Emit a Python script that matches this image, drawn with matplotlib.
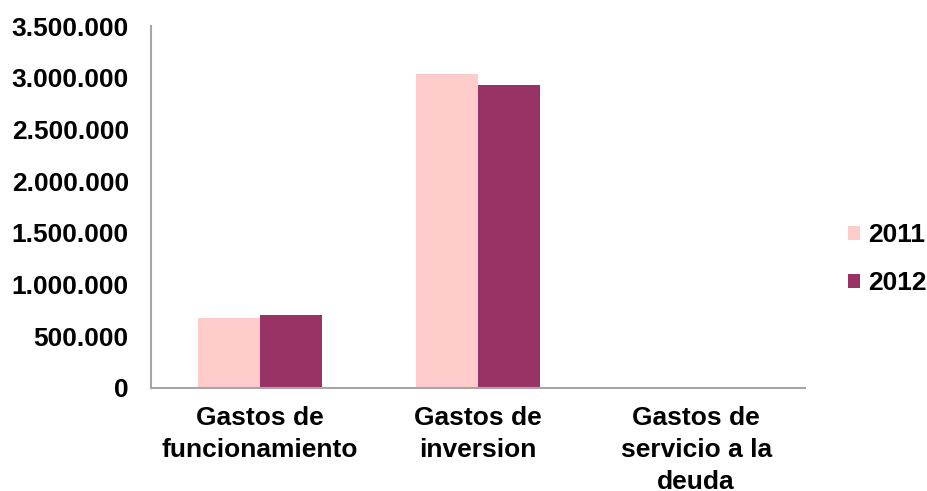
import numpy as np
import matplotlib.pyplot as plt
from matplotlib.ticker import FuncFormatter

plt.rcParams['font.family'] = ['Liberation Sans', 'DejaVu Sans']

categorias = ["Gastos de\nfuncionamiento", "Gastos de\ninversion", "Gastos de\nservicio a la\ndeuda"]
gastos_2011 = [677000, 3037000, 0]
gastos_2012 = [706000, 2930000, 0]
anios = ["2011", "2012"]

fig = plt.figure(figsize=(9.28, 4.91), dpi=100)
ax = fig.add_axes([0.1627, 0.2098, 0.705, 0.737])

x = np.arange(len(categorias))
w = 0.285
ax.bar(x - w / 2, gastos_2011, w, color="#FFCCCC", label=anios[0])
ax.bar(x + w / 2, gastos_2012, w, color="#993366", label=anios[1])

ax.set_xlim(-0.5, 2.5)
ax.set_ylim(0, 3500000)
ax.set_yticks(np.arange(0, 3500001, 500000))
ax.yaxis.set_major_formatter(FuncFormatter(lambda v, p: f"{int(v):,}".replace(",", ".")))
ax.set_xticks(x)
ax.set_xticklabels(categorias, fontsize=19, fontweight="bold", linespacing=1.42)
for t in ax.get_yticklabels():
    t.set_fontsize(19)
    t.set_fontweight("bold")
ax.tick_params(axis="y", length=0, pad=16)
ax.tick_params(axis="x", length=0, pad=13)

for s in ["top", "right"]:
    ax.spines[s].set_visible(False)
for s in ["left", "bottom"]:
    ax.spines[s].set_color("#A6A6A6")
    ax.spines[s].set_linewidth(1.5)

fig.legend(loc="upper left", bbox_to_anchor=(0.914, 0.545), frameon=False,
           prop={"size": 19, "weight": "bold"}, handlelength=0.45, handleheight=0.45,
           handletextpad=0.3, labelspacing=0.9, borderpad=0, borderaxespad=0)

fig.savefig("out.png", dpi=100)
